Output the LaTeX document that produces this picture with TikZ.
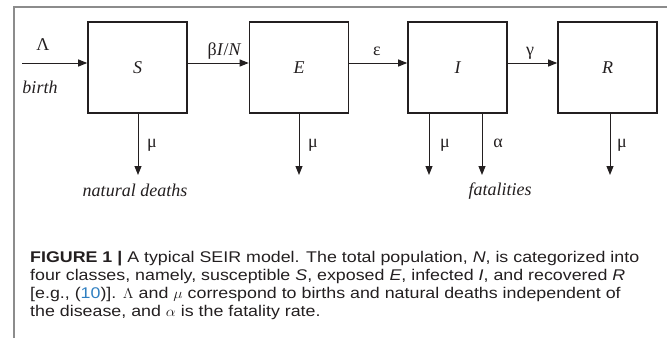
\documentclass[tikz,border=0pt]{standalone}
\usepackage{fontspec}
\setmainfont{Liberation Serif}
\newfontfamily\capfont[FakeStretch=1.15]{Liberation Sans}
\usetikzlibrary{arrows.meta}
\definecolor{ink}{HTML}{231F20}
\definecolor{framegray}{HTML}{8C8C8C}
\tikzset{
  comp/.style={draw=ink, line width=1.6pt, minimum width=99pt, minimum height=91pt, inner sep=0pt, font=\fontsize{18}{20}\selectfont\itshape, text=ink},
  arr/.style={draw=ink, line width=1pt, -{Stealth[length=9pt,width=7pt,inset=0pt]}},
  lbl/.style={font=\fontsize{18}{20}\selectfont, text=ink, inner sep=0pt},
  itl/.style={font=\fontsize{18}{20}\selectfont\itshape, text=ink, inner sep=0pt},
}
\newcommand{\capmath}[1]{\scalebox{1.1}[1]{$#1$}}
\begin{document}
\begin{tikzpicture}[x=1pt,y=-1pt]
\useasboundingbox (0,0) rectangle (667,338);
% frame
\draw[framegray, line width=1.5pt] (14,338) -- (14,7) -- (667,7);
% compartments
\node[comp] (S) at (137.5,67.5) {S};
\node[comp] (E) at (299,67.5) {E};
\node[comp] (I) at (457.5,67.5) {I};
\node[comp] (R) at (607.5,67.5) {R};
% inflow
\coordinate (b0) at (22,63);
\draw[arr] (b0) -- (b0 -| S.west);
\node[lbl] (lam) at (43,45) {Λ};
\node[itl, anchor=base] (birth) at (40,93) {birth};
% transitions
\draw[arr] ([yshift=4.5pt]S.east) -- ([yshift=4.5pt]E.west);
\draw[arr] ([yshift=4.5pt]E.east) -- ([yshift=4.5pt]I.west);
\draw[arr] ([yshift=4.5pt]I.east) -- ([yshift=4.5pt]R.west);
\node[lbl, anchor=base] (bIN) at (224.5,55) {β\textit{I}/\textit{N}};
\node[lbl, anchor=base] (eps) at (377,55) {ε};
\node[lbl, anchor=base] (gam) at (530,55) {γ};
% outflows
\coordinate (dS) at (138,175);
\coordinate (dE) at (299,175);
\coordinate (dI1) at (429,175);
\coordinate (dI2) at (482,175);
\coordinate (dR) at (610,175);
\draw[arr] (S.south -| dS) -- (dS);
\draw[arr] (E.south -| dE) -- (dE);
\draw[arr] (I.south -| dI1) -- (dI1);
\draw[arr] (I.south -| dI2) -- (dI2);
\draw[arr] (R.south -| dR) -- (dR);
\node[lbl, anchor=base] (m1) at (152,147) {μ};
\node[lbl, anchor=base] (m2) at (313,147) {μ};
\node[lbl, anchor=base] (m3) at (445,147) {μ};
\node[lbl, anchor=base] (al) at (498,147) {α};
\node[lbl, anchor=base] (m4) at (622,147) {μ};
\node[itl, anchor=base] (nd) at (135,196) {natural deaths};
\node[itl, anchor=base] (fat) at (500,195) {fatalities};
% caption
\node[anchor=north west, inner sep=0pt, align=left, text=ink,
      font=\capfont\fontsize{15.5}{18}\selectfont] (cap) at (30,251)
{\textbf{FIGURE 1 |} A typical SEIR model. The total population, \textit{N}, is categorized into\\
four classes, namely, susceptible \textit{S}, exposed \textit{E}, infected \textit{I}, and recovered \textit{R}\\
{[}e.g., ({\color[HTML]{2F7FC1}10}){]}. \capmath{\Lambda} and \capmath{\mu} correspond to births and natural deaths independent of\\
the disease, and \capmath{\alpha} is the fatality rate.};
\end{tikzpicture}
\end{document}
